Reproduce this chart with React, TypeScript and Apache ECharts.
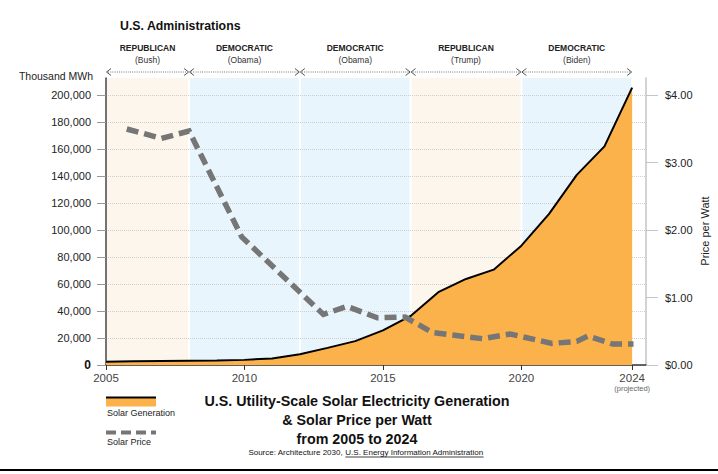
import React, { useEffect, useRef } from 'react';
import * as echarts from 'echarts';

const FONT = '"Liberation Sans", Arial, Helvetica, sans-serif';

// Solar generation (thousand MWh), yearly
const genYears = [2005, 2006, 2007, 2008, 2009, 2010, 2011, 2012, 2013, 2014, 2015, 2016, 2017, 2018, 2019, 2020, 2021, 2022, 2023, 2024];
const generation = [2500, 2700, 2900, 3100, 3300, 3800, 4900, 8000, 12700, 17700, 25700, 36400, 54000, 63800, 70700, 88500, 112100, 141000, 162100, 205700];

// Solar price per watt ($), positions
const priceYears = [2005.75, 2007, 2008, 2009.9, 2012.85, 2013.7, 2014.8, 2015.8, 2016.8, 2018.6, 2019.6, 2021.1, 2022.0, 2022.4, 2023.3, 2024.05];
const priceValues = [3.5, 3.36, 3.47, 1.9, 0.75, 0.87, 0.7, 0.71, 0.48, 0.39, 0.46, 0.32, 0.35, 0.43, 0.31, 0.31];

// Administrations
const adminStart = [2005, 2008, 2012, 2016, 2020];
const adminEnd = [2008, 2012, 2016, 2020, 2024];
const adminParty = ['REPUBLICAN', 'DEMOCRATIC', 'DEMOCRATIC', 'REPUBLICAN', 'DEMOCRATIC'];
const adminPresident = ['(Bush)', '(Obama)', '(Obama)', '(Trump)', '(Biden)'];

// Ticks
const leftTicks = [0, 20000, 40000, 60000, 80000, 100000, 120000, 140000, 160000, 180000, 200000];
const rightTicks = [0, 1, 2, 3, 4];
const xTicks = [2005, 2010, 2015, 2020, 2024];

const LEFT_MAX = 212800;
const RIGHT_MAX = LEFT_MAX / 50000;

function measure(text: string, font: string) {
  const c = document.createElement('canvas').getContext('2d');
  if (!c) return text.length * 4;
  c.font = font;
  return c.measureText(text).width;
}

export default function App() {
  const ref = useRef<HTMLDivElement>(null);
  useEffect(() => {
    if (!ref.current) return;
    const chart = echarts.init(ref.current, undefined, { renderer: 'svg' });

    const srcA = 'Source: Architecture 2030, ';
    const srcB = 'U.S. Energy Information Administration';
    const srcSize = 8;
    const srcFont = `${srcSize}px "Liberation Sans", Arial, sans-serif`;
    const wA = measure(srcA, srcFont);
    const wB = measure(srcB, srcFont);
    const srcLeft = 366 - (wA + wB) / 2;
    const srcY = 452;

    const option: any = {
      animation: false,
      backgroundColor: '#ffffff',
      textStyle: { fontFamily: FONT },
      grid: { left: 106, right: 72, top: 78, bottom: 109, containLabel: false },
      xAxis: {
        type: 'value',
        min: 2005,
        max: 2024.5,
        interval: 5,
        axisLine: { show: true, lineStyle: { color: '#333', width: 1.5 } },
        axisTick: { show: true, length: 5, lineStyle: { color: '#333' }, customValues: xTicks },
        axisLabel: {
          customValues: xTicks,
          fontSize: 11.5,
          color: '#444',
          fontFamily: FONT,
          margin: 6,
          lineHeight: 13,
          formatter: (v: number) => (v === 2024 ? '2024\n{p|(projected)}' : String(v)),
          rich: { p: { fontSize: 7.5, color: '#666', lineHeight: 9, fontFamily: FONT } },
        },
        splitLine: { show: false },
      },
      yAxis: [
        {
          type: 'value',
          min: 0,
          max: LEFT_MAX,
          interval: 20000,
          position: 'left',
          axisLine: { show: true, lineStyle: { color: '#444', width: 1.5 } },
          axisTick: { show: true, length: 9, lineStyle: { color: '#999' }, customValues: leftTicks },
          axisLabel: {
            customValues: leftTicks,
            fontSize: 11,
            color: '#222',
            fontFamily: FONT,
            margin: 15,
            formatter: (v: number) => (v === 0 ? '{b|0}' : v.toLocaleString('en-US')),
            rich: { b: { fontWeight: 'bold', fontSize: 12, fontFamily: FONT, color: '#111' } },
          },
          splitLine: { show: true, lineStyle: { color: '#cfcfcf', type: 'dotted', width: 1 } },
        },
        {
          type: 'value',
          min: 0,
          max: RIGHT_MAX,
          interval: 1,
          position: 'right',
          axisLine: { show: true, lineStyle: { color: '#c4c4c4', width: 1.5 } },
          axisTick: { show: true, length: 12, lineStyle: { color: '#c4c4c4' }, customValues: rightTicks },
          axisLabel: {
            customValues: rightTicks,
            fontSize: 11,
            color: '#222',
            fontFamily: FONT,
            margin: 19,
            formatter: (v: number) => '$' + v.toFixed(2),
          },
          splitLine: { show: false },
        },
      ],
      series: [
        {
          type: 'custom',
          name: 'Administrations',
          z: -1,
          silent: true,
          clip: false,
          encode: { x: [0, 1], y: 2 },
          data: adminStart.map((s, i) => [s, adminEnd[i], 0]),
          renderItem: (params: any, api: any) => {
            const i = params.dataIndex;
            const s = api.value(0);
            const e = api.value(1);
            const x0 = api.coord([s, 0])[0];
            const x1 = api.coord([e, 0])[0];
            const cs = params.coordSys;
            const top = cs.y;
            const ay = top - 6;
            const fill = adminParty[i] === 'REPUBLICAN' ? '#fdf6ec' : '#e9f5fd';
            const cx = (x0 + x1) / 2;
            return {
              type: 'group',
              children: [
                { type: 'rect', shape: { x: x0 + 1, y: top, width: x1 - x0 - 2, height: cs.height }, style: { fill } },
                { type: 'line', shape: { x1: x0 + 2, y1: ay, x2: x1 - 2, y2: ay }, style: { stroke: '#777', lineWidth: 1, lineDash: [1, 1.2] } },
                { type: 'polyline', shape: { points: [[x0 + 5, ay - 3.5], [x0 + 0.5, ay], [x0 + 5, ay + 3.5]] }, style: { stroke: '#555', lineWidth: 1, fill: 'none' } },
                { type: 'polyline', shape: { points: [[x1 - 5, ay - 3.5], [x1 - 0.5, ay], [x1 - 5, ay + 3.5]] }, style: { stroke: '#555', lineWidth: 1, fill: 'none' } },
                { type: 'text', style: { text: adminParty[i], x: cx, y: top - 30, align: 'center', verticalAlign: 'middle', fontSize: 8.5, fontWeight: 'bold', fontFamily: FONT, fill: '#222' } },
                { type: 'text', style: { text: adminPresident[i], x: cx, y: top - 18, align: 'center', verticalAlign: 'middle', fontSize: 8.5, fontFamily: FONT, fill: '#333' } },
              ],
            };
          },
        },
        {
          type: 'line',
          name: 'Solar Generation',
          yAxisIndex: 0,
          z: 2,
          symbol: 'none',
          data: genYears.map((y, i) => [y, generation[i]]),
          lineStyle: { color: '#000', width: 2 },
          areaStyle: { color: '#fbb24a', opacity: 1 },
        },
        {
          type: 'line',
          name: 'Solar Price',
          yAxisIndex: 1,
          z: 3,
          symbol: 'none',
          data: priceYears.map((y, i) => [y, priceValues[i]]),
          lineStyle: { color: '#767676', width: 5.5, type: [12, 6], cap: 'butt', join: 'miter' },
        },
      ],
      graphic: [
        { type: 'text', left: 120, top: 20, style: { text: 'U.S. Administrations', fontSize: 12.3, fontWeight: 'bold', fontFamily: FONT, fill: '#111' } },
        { type: 'text', x: 93, y: 76, style: { text: 'Thousand MWh', align: 'right', verticalAlign: 'middle', fontSize: 10.5, fontFamily: FONT, fill: '#222' } },
        { type: 'text', x: 705, y: 231, rotation: Math.PI / 2, style: { text: 'Price per Watt', align: 'center', verticalAlign: 'middle', fontSize: 11, fontFamily: FONT, fill: '#222' } },
        // legend
        { type: 'rect', shape: { x: 106, y: 398, width: 50, height: 8.5 }, style: { fill: '#fbb24a' } },
        { type: 'line', shape: { x1: 106, y1: 397.5, x2: 156, y2: 397.5 }, style: { stroke: '#000', lineWidth: 2 } },
        { type: 'text', x: 107, y: 413, style: { text: 'Solar Generation', verticalAlign: 'middle', fontSize: 9, fontFamily: FONT, fill: '#222' } },
        { type: 'line', shape: { x1: 106, y1: 432.5, x2: 156, y2: 432.5 }, style: { stroke: '#767676', lineWidth: 4, lineDash: [10, 5] } },
        { type: 'text', x: 107, y: 442, style: { text: 'Solar Price', verticalAlign: 'middle', fontSize: 9, fontFamily: FONT, fill: '#222' } },
        // title
        { type: 'text', x: 357, y: 401, style: { text: 'U.S. Utility-Scale Solar Electricity Generation', align: 'center', verticalAlign: 'middle', fontSize: 14.3, fontWeight: 'bold', fontFamily: FONT, fill: '#111' } },
        { type: 'text', x: 357, y: 420, style: { text: '& Solar Price per Watt', align: 'center', verticalAlign: 'middle', fontSize: 14.3, fontWeight: 'bold', fontFamily: FONT, fill: '#111' } },
        { type: 'text', x: 357, y: 439, style: { text: 'from 2005 to 2024', align: 'center', verticalAlign: 'middle', fontSize: 14.3, fontWeight: 'bold', fontFamily: FONT, fill: '#111' } },
        { type: 'text', x: srcLeft, y: srcY, style: { text: srcA, verticalAlign: 'middle', fontSize: srcSize, fontFamily: FONT, fill: '#111' } },
        { type: 'text', x: srcLeft + wA, y: srcY, style: { text: srcB, verticalAlign: 'middle', fontSize: srcSize, fontFamily: FONT, fill: '#111' } },
        { type: 'line', shape: { x1: srcLeft + wA, y1: srcY + 5, x2: srcLeft + wA + wB, y2: srcY + 5 }, style: { stroke: '#111', lineWidth: 0.8 } },
        // bottom border
        { type: 'line', shape: { x1: 0, y1: 470, x2: 718, y2: 470 }, style: { stroke: '#000', lineWidth: 2 } },
      ],
    };
    chart.setOption(option);
    return () => chart.dispose();
  }, []);
  return (
    <div
      ref={ref}
      style={{ position: 'fixed', left: 0, top: 0, width: 718, height: 474, background: '#fff' }}
    />
  );
}
